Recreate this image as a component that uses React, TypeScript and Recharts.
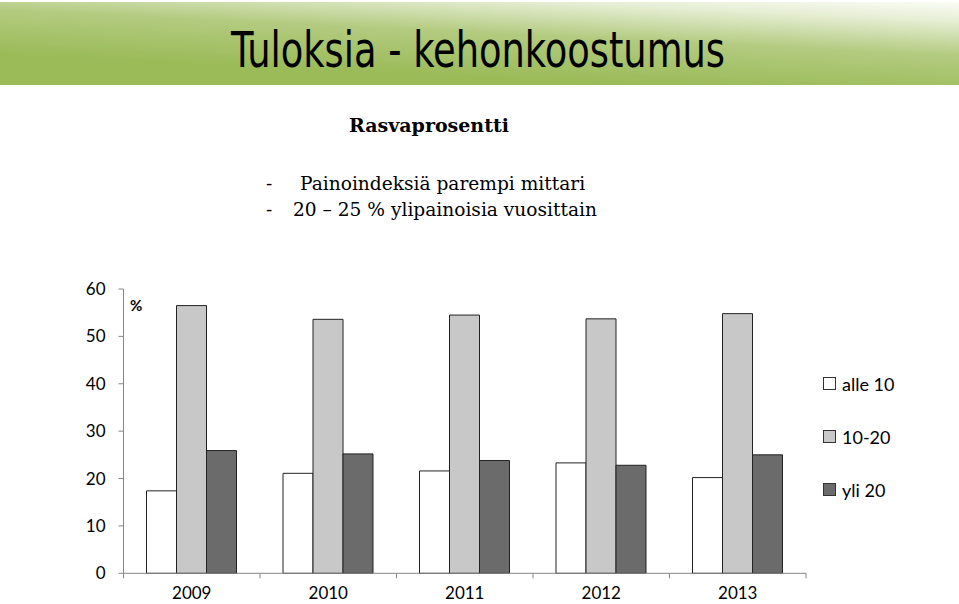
import { BarChart, Bar, XAxis, YAxis, Legend } from 'recharts';

// values (%)
const years = ['2009', '2010', '2011', '2012', '2013'];
const alle10 = [17.4, 21.1, 21.6, 23.3, 20.2];
const v10to20 = [56.5, 53.6, 54.5, 53.7, 54.8];
const yli20 = [25.9, 25.2, 23.8, 22.8, 25.0];
const yTicks = [0, 10, 20, 30, 40, 50, 60];

const seriesNames = ['alle 10', '10-20', 'yli 20'];

const data = years.map((year, i) => ({
  year,
  alle10: alle10[i],
  v10to20: v10to20[i],
  yli20: yli20[i],
}));

const W = 959;
const H = 604;
const PLOT_LEFT = 123.5;
const PLOT_RIGHT = 806;
const PLOT_TOP = 289;
const PLOT_BOTTOM = 573.3;
const STEP = (PLOT_RIGHT - PLOT_LEFT) / years.length;
const AXIS_FONT = "Lato, 'Open Sans', sans-serif";
const AXIS_COLOR = '#868686';
const SERIF = "'DejaVu Serif', 'Liberation Serif', serif";

function YearTick(props: any) {
  const { x, y, payload, index } = props;
  const left = x - STEP / 2;
  return (
    <g>
      <line x1={left} x2={left} y1={y} y2={y + 5} stroke={AXIS_COLOR} />
      {index === years.length - 1 && (
        <line x1={x + STEP / 2} x2={x + STEP / 2} y1={y} y2={y + 5} stroke={AXIS_COLOR} />
      )}
      <text x={x} y={y + 26} textAnchor="middle" fontSize={17} fontFamily={AXIS_FONT} fill="#000">
        {payload.value}
      </text>
    </g>
  );
}

function LegendBox(props: any) {
  const items = [...(props.payload || [])].sort(
    (a: any, b: any) => seriesNames.indexOf(a.value) - seriesNames.indexOf(b.value)
  );
  return (
    <div style={{ fontFamily: AXIS_FONT, fontSize: 18, color: '#000' }}>
      {items.map((it: any) => (
        <div key={it.value} style={{ display: 'flex', alignItems: 'center', height: 53 }}>
          <span
            style={{
              display: 'inline-block',
              width: 11,
              height: 11,
              background: it.color,
              border: '1px solid #333',
              marginRight: 6,
            }}
          />
          {it.value}
        </div>
      ))}
    </div>
  );
}

export default function App() {
  return (
    <div style={{ position: 'absolute', left: 0, top: 0, width: W, height: H, background: '#fff', overflow: 'hidden' }}>
      <svg width={W} height={86} style={{ position: 'absolute', left: 0, top: 0 }}>
        <defs>
          <linearGradient id="band" x1="0.5" y1="0.9" x2="1" y2="0">
            <stop offset="0" stopColor="#9bbb59" />
            <stop offset="0.45" stopColor="#b3cb80" />
            <stop offset="0.8" stopColor="#e6eed4" />
            <stop offset="1" stopColor="#fbfcf7" />
          </linearGradient>
        </defs>
        <rect x={0} y={2} width={W} height={83} fill="url(#band)" />
        <text
          x={231}
          y={67}
          fontSize={50}
          fontFamily="'Liberation Sans Narrow', 'DejaVu Sans Condensed', sans-serif"
          textLength={494}
          lengthAdjust="spacingAndGlyphs"
          fill="#000"
        >
          Tuloksia - kehonkoostumus
        </text>
      </svg>

      <div
        style={{
          position: 'absolute',
          left: 300,
          width: 258,
          top: 114,
          textAlign: 'center',
          fontFamily: SERIF,
          fontWeight: 'bold',
          fontSize: 19,
        }}
      >
        Rasvaprosentti
      </div>
      <div style={{ position: 'absolute', left: 266, top: 171, fontFamily: SERIF, fontSize: 18.6, lineHeight: '26px' }}>
        <div>
          <span style={{ display: 'inline-block', width: 34 }}>-</span>Painoindeksiä parempi mittari
        </div>
        <div>
          <span style={{ display: 'inline-block', width: 27 }}>-</span>20 – 25 % ylipainoisia vuosittain
        </div>
      </div>

      <div style={{ position: 'absolute', left: 0, top: 0 }}>
        <BarChart
          width={W}
          height={H}
          data={data}
          barGap={0}
          barSize={30}
          margin={{ top: PLOT_TOP, right: W - PLOT_RIGHT, bottom: 0, left: PLOT_LEFT - 50 }}
        >
          <XAxis
            dataKey="year"
            axisLine={{ stroke: AXIS_COLOR }}
            tickLine={false}
            tickSize={0}
            tickMargin={0}
            tick={<YearTick />}
            interval={0}
            height={H - PLOT_BOTTOM}
          />
          <YAxis
            width={50}
            domain={[0, 60]}
            ticks={yTicks}
            interval={0}
            axisLine={{ stroke: AXIS_COLOR }}
            tickLine={{ stroke: AXIS_COLOR }}
            tickSize={5}
            tickMargin={13}
            tick={{ fontSize: 17, fontFamily: AXIS_FONT, fill: '#000' }}
          />
          <Legend
            layout="vertical"
            align="center"
            verticalAlign="middle"
            content={<LegendBox />}
            wrapperStyle={{ left: 823, top: 357, width: 120 }}
          />
          <Bar dataKey="alle10" name={seriesNames[0]} fill="#ffffff" stroke="#222" strokeWidth={1} isAnimationActive={false} />
          <Bar dataKey="v10to20" name={seriesNames[1]} fill="#c8c8c8" stroke="#222" strokeWidth={1} isAnimationActive={false} />
          <Bar dataKey="yli20" name={seriesNames[2]} fill="#6b6b6b" stroke="#222" strokeWidth={1} isAnimationActive={false} />
        </BarChart>
      </div>

      <div style={{ position: 'absolute', left: 130, top: 296, fontFamily: AXIS_FONT, fontWeight: 'bold', fontSize: 15 }}>%</div>
    </div>
  );
}
